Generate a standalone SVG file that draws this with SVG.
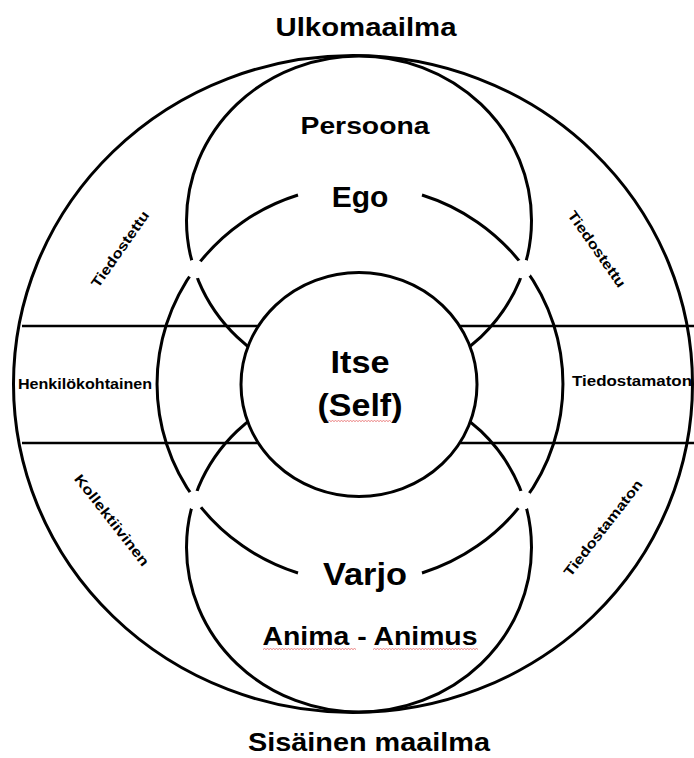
<svg xmlns="http://www.w3.org/2000/svg" width="694" height="758" viewBox="0 0 694 758">
<style>
.ln{fill:none;stroke:#000;stroke-width:3}
.hl{fill:none;stroke:#000;stroke-width:2.6}
.gap{fill:#fff;stroke:none}
.t{font-family:"Liberation Sans",Arial,sans-serif;font-weight:bold;fill:#000;text-anchor:middle}
.s{font-family:"Liberation Sans",Arial,sans-serif;font-weight:bold;fill:#000}
.sq{fill:none;stroke:#e87070;stroke-width:0.9}
</style>
<rect width="694" height="758" fill="#fff"/>
<g id="connectors">
<line class="hl" x1="22" y1="326" x2="694" y2="326"/>
<line class="hl" x1="22" y1="443" x2="694" y2="443"/>
</g>
<g id="outer">
<ellipse class="ln" cx="353" cy="384" rx="339.5" ry="328.5"/>
</g>
<g id="persoona">
<ellipse class="ln" cx="359" cy="220.5" rx="172.5" ry="164.5"/>
</g>
<g id="anima">
<ellipse class="ln" cx="359" cy="547.5" rx="172.5" ry="164.5"/>
</g>
<g id="ego-varjo">
<path class="ln" d="M298,195 A203,198.5 0 0 0 298,573"/>
<path class="ln" d="M422,195 A203,198.5 0 0 1 422,573"/>
</g>
<g id="crossings">
<circle class="gap" cx="195" cy="269" r="9.5"/>
<circle class="gap" cx="523" cy="269" r="9.5"/>
<circle class="gap" cx="195" cy="500" r="9.5"/>
<circle class="gap" cx="523" cy="500" r="9.5"/>
</g>
<g id="itse">
<ellipse cx="359" cy="384.5" rx="118" ry="112" fill="#fff" stroke="#000" stroke-width="3"/>
<text class="t" x="360" y="373" font-size="32" textLength="59" lengthAdjust="spacingAndGlyphs">Itse</text>
<text class="t" x="360" y="416" font-size="32" textLength="85" lengthAdjust="spacingAndGlyphs">(Self)</text>
<path class="sq" d="M328,421.5 l1.5,-1 l1.5,1 l1.5,-1 l1.5,1 l1.5,-1 l1.5,1 l1.5,-1 l1.5,1 l1.5,-1 l1.5,1 l1.5,-1 l1.5,1 l1.5,-1 l1.5,1 l1.5,-1 l1.5,1 l1.5,-1 l1.5,1 l1.5,-1 l1.5,1 l1.5,-1 l1.5,1 l1.5,-1 l1.5,1 l1.5,-1 l1.5,1 l1.5,-1 l1.5,1 l1.5,-1 l1.5,1 l1.5,-1 l1.5,1 l1.5,-1 l1.5,1 l1.5,-1 l1.5,1 l1.5,-1 l1.5,1 l1.5,-1 l1.5,1 l1.5,-1 l1.5,1"/>
</g>
<g id="labels">
<text class="t" x="366" y="36" font-size="26" textLength="181" lengthAdjust="spacingAndGlyphs">Ulkomaailma</text>
<text class="t" x="365" y="134" font-size="23" textLength="129" lengthAdjust="spacingAndGlyphs">Persoona</text>
<text class="t" x="360" y="207" font-size="30">Ego</text>
<text class="t" x="365" y="585" font-size="32" textLength="84" lengthAdjust="spacingAndGlyphs">Varjo</text>
<text class="t" x="370" y="645" font-size="25" textLength="215" lengthAdjust="spacingAndGlyphs">Anima - Animus</text>
<path class="sq" d="M263,649.5 l1.5,-1 l1.5,1 l1.5,-1 l1.5,1 l1.5,-1 l1.5,1 l1.5,-1 l1.5,1 l1.5,-1 l1.5,1 l1.5,-1 l1.5,1 l1.5,-1 l1.5,1 l1.5,-1 l1.5,1 l1.5,-1 l1.5,1 l1.5,-1 l1.5,1 l1.5,-1 l1.5,1 l1.5,-1 l1.5,1 l1.5,-1 l1.5,1 l1.5,-1 l1.5,1 l1.5,-1 l1.5,1 l1.5,-1 l1.5,1 l1.5,-1 l1.5,1 l1.5,-1 l1.5,1 l1.5,-1 l1.5,1 l1.5,-1 l1.5,1 l1.5,-1 l1.5,1 l1.5,-1 l1.5,1 l1.5,-1 l1.5,1 l1.5,-1 l1.5,1 l1.5,-1 l1.5,1 l1.5,-1 l1.5,1 l1.5,-1 l1.5,1 l1.5,-1 l1.5,1 l1.5,-1 l1.5,1 l1.5,-1 l1.5,1 l1.5,-1 l1.5,1"/>
<path class="sq" d="M373,649.5 l1.5,-1 l1.5,1 l1.5,-1 l1.5,1 l1.5,-1 l1.5,1 l1.5,-1 l1.5,1 l1.5,-1 l1.5,1 l1.5,-1 l1.5,1 l1.5,-1 l1.5,1 l1.5,-1 l1.5,1 l1.5,-1 l1.5,1 l1.5,-1 l1.5,1 l1.5,-1 l1.5,1 l1.5,-1 l1.5,1 l1.5,-1 l1.5,1 l1.5,-1 l1.5,1 l1.5,-1 l1.5,1 l1.5,-1 l1.5,1 l1.5,-1 l1.5,1 l1.5,-1 l1.5,1 l1.5,-1 l1.5,1 l1.5,-1 l1.5,1 l1.5,-1 l1.5,1 l1.5,-1 l1.5,1 l1.5,-1 l1.5,1 l1.5,-1 l1.5,1 l1.5,-1 l1.5,1 l1.5,-1 l1.5,1 l1.5,-1 l1.5,1 l1.5,-1 l1.5,1 l1.5,-1 l1.5,1 l1.5,-1 l1.5,1 l1.5,-1 l1.5,1 l1.5,-1 l1.5,1 l1.5,-1 l1.5,1 l1.5,-1 l1.5,1 l1.5,-1 l1.5,1"/>
<text class="t" x="369" y="751" font-size="25" textLength="242" lengthAdjust="spacingAndGlyphs">Sisäinen maailma</text>
<text class="s" x="18" y="389" font-size="15" textLength="134" lengthAdjust="spacingAndGlyphs">Henkilökohtainen</text>
<text class="s" x="572" y="386" font-size="15" textLength="120" lengthAdjust="spacingAndGlyphs">Tiedostamaton</text>
<text class="t" font-size="14" dominant-baseline="central" textLength="90" lengthAdjust="spacingAndGlyphs" transform="translate(120,249) rotate(-55)">Tiedostettu</text>
<text class="t" font-size="14" dominant-baseline="central" textLength="90" lengthAdjust="spacingAndGlyphs" transform="translate(597,249) rotate(55)">Tiedostettu</text>
<text class="t" font-size="14" dominant-baseline="central" textLength="112" lengthAdjust="spacingAndGlyphs" transform="translate(112,520) rotate(52)">Kollektiivinen</text>
<text class="t" font-size="14" dominant-baseline="central" textLength="118" lengthAdjust="spacingAndGlyphs" transform="translate(603,528) rotate(-52)">Tiedostamaton</text>
</g>
</svg>
